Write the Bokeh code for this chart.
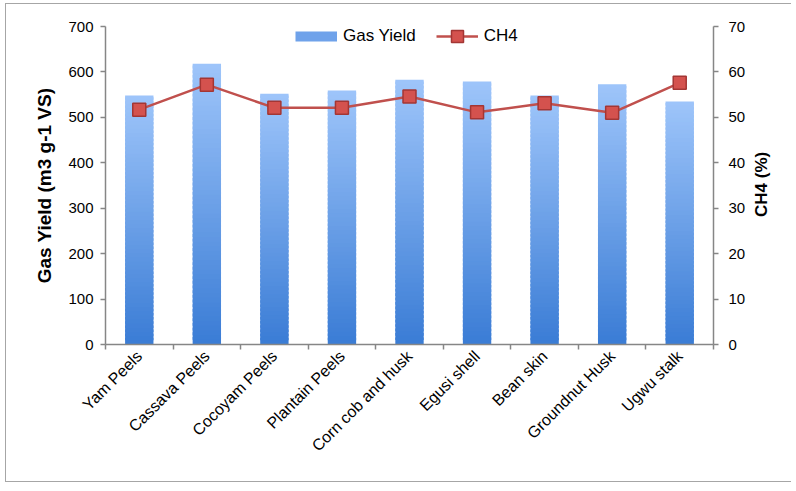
import numpy as np
from bokeh.plotting import figure
from bokeh.models import (Range1d, LinearAxis, FixedTicker, CustomJSTickFormatter,
                          Legend, LegendItem)
from bokeh.embed import file_html
from bokeh.resources import INLINE

# ---- data ----
categories = ["Yam Peels", "Cassava Peels", "Cocoyam Peels", "Plantain Peels",
              "Corn cob and husk", "Egusi shell", "Bean skin", "Groundnut Husk", "Ugwu stalk"]
gas_yield = [548, 618, 552, 559, 583, 579, 548, 573, 535]
ch4 = [51.7, 57.2, 52.1, 52.1, 54.6, 51.1, 53.1, 51.0, 57.6]
left_ticks = [0, 100, 200, 300, 400, 500, 600, 700]
right_ticks = [0, 10, 20, 30, 40, 50, 60, 70]

FONT = "Liberation Sans"
AX = "#868686"
n = len(categories)
xc = [i + 0.5 for i in range(n)]

p = figure(width=786, height=479, x_range=Range1d(0, n), y_range=Range1d(0, 700),
           output_backend="svg", toolbar_location=None,
           min_border_left=99, min_border_right=79, min_border_top=22, min_border_bottom=139)
p.extra_y_ranges = {"ch4": Range1d(0, 70)}
p.outline_line_color = None
p.xgrid.visible = False
p.ygrid.visible = False
p.styles = {"margin-left": "5px", "margin-top": "3px",
            "border-left": "1px solid #A6A6A6", "border-top": "1px solid #A6A6A6",
            "border-bottom": "1px solid #A6A6A6"}

# ---- gradient bars (stacked slices of each bar) ----
N = 60
top_rgb = np.array([0x9E, 0xC5, 0xFA], dtype=float)
bot_rgb = np.array([0x3A, 0x7C, 0xD5], dtype=float)
bx, bb, bt, bc = [], [], [], []
for k in range(N):
    f0 = k / N
    f1 = min((k + 1.6) / N, 1.0)
    t = (k + 0.5) / N
    c = bot_rgb + (top_rgb - bot_rgb) * t
    col = "#%02x%02x%02x" % tuple(int(round(v)) for v in c)
    for i in range(n):
        bx.append(xc[i])
        bb.append(gas_yield[i] * f0)
        bt.append(gas_yield[i] * f1)
        bc.append(col)
p.vbar(x=bx, bottom=bb, top=bt, width=0.42, fill_color=bc, line_color=None)

# ---- CH4 line ----
r_line = p.line(xc, ch4, y_range_name="ch4", line_color="#C0504D", line_width=2.5)
r_sc = p.scatter(xc, ch4, y_range_name="ch4", marker="square", size=13,
                 fill_color="#D4524E", line_color="#A33634", line_width=1.5)

# legend proxy for bars (single NaN point: draws nothing in the plot)
r_gas = p.line(x=[float("nan")], y=[float("nan")], line_color="#6FA2EA", line_width=10)

legend = Legend(items=[LegendItem(label="Gas Yield", renderers=[r_gas]),
                       LegendItem(label="CH4", renderers=[r_line, r_sc])],
                orientation="horizontal", location=(190, 293),
                glyph_width=42, glyph_height=30, label_standoff=6, spacing=20,
                padding=0, margin=0, border_line_color=None, background_fill_alpha=0,
                label_text_font=FONT, label_text_font_size="17px", label_text_color="#000000")
p.add_layout(legend)

# ---- axes ----
def style_axis(ax):
    ax.axis_line_color = AX
    ax.axis_line_width = 1.5
    ax.major_tick_line_color = AX
    ax.major_tick_line_width = 1.5
    ax.major_tick_out = 5
    ax.major_tick_in = 0
    ax.minor_tick_line_color = None
    ax.major_label_text_font = FONT
    ax.major_label_text_font_size = "15px"
    ax.major_label_text_color = "#000000"
    ax.axis_label_text_font = FONT
    ax.axis_label_text_font_size = "19px"
    ax.axis_label_text_font_style = "bold"
    ax.axis_label_text_color = "#000000"

ly = p.yaxis[0]
style_axis(ly)
ly.ticker = FixedTicker(ticks=left_ticks)
ly.axis_label = "Gas Yield (m3 g-1 VS)"
ly.major_label_standoff = 7
ly.axis_label_standoff = 10

ry = LinearAxis(y_range_name="ch4", ticker=FixedTicker(ticks=right_ticks))
style_axis(ry)
ry.major_label_standoff = 10
# rotated to read bottom-to-top; the label starts at the anchor, so it is
# anchored at the bottom of the axis and lead-padded with no-break spaces
ry.axis_label = "\u00a0" * 27 + "CH4 (%)"
ry.axis_label_text_font_size = "17px"
ry.axis_label_standoff = 13
ry.axis_label_orientation = np.pi / 2
if "axis_label_align" in ry.properties():
    ry.axis_label_align = "start"
p.add_layout(ry, "right")

xa = p.xaxis[0]
style_axis(xa)
xa.ticker = FixedTicker(ticks=xc, minor_ticks=list(range(n + 1)))
xa.formatter = CustomJSTickFormatter(args=dict(labels=categories),
                                     code="return labels[Math.floor(tick)];")
xa.major_tick_line_color = None
xa.minor_tick_line_color = AX
xa.minor_tick_line_width = 1.5
xa.minor_tick_out = 5
xa.minor_tick_in = 0
xa.major_label_orientation = np.pi / 4
xa.major_label_text_font_size = "16px"
xa.major_label_standoff = 4

open("out.html", "w").write(file_html(p, INLINE))
